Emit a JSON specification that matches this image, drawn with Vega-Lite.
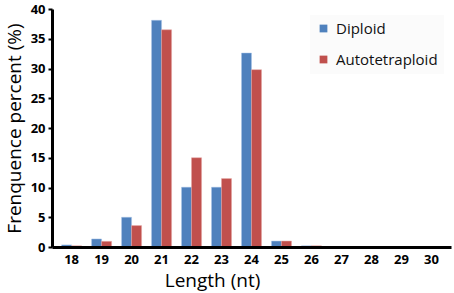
{
  "$schema": "https://vega.github.io/schema/vega-lite/v6.json",
  "width": 399,
  "height": 238,
  "autosize": {"type": "none"},
  "padding": {"left": 52, "top": 9, "right": 3, "bottom": 46},
  "background": "white",
  "config": {
    "view": {"stroke": null},
    "font": "Open Sans"
  },
  "data": {
    "values": [
      {"length": "18", "group": "Diploid", "value": 0.35},
      {"length": "18", "group": "Autotetraploid", "value": 0.2},
      {"length": "19", "group": "Diploid", "value": 1.35},
      {"length": "19", "group": "Autotetraploid", "value": 0.95},
      {"length": "20", "group": "Diploid", "value": 5.0},
      {"length": "20", "group": "Autotetraploid", "value": 3.6},
      {"length": "21", "group": "Diploid", "value": 38.1},
      {"length": "21", "group": "Autotetraploid", "value": 36.5},
      {"length": "22", "group": "Diploid", "value": 10.05},
      {"length": "22", "group": "Autotetraploid", "value": 15.0},
      {"length": "23", "group": "Diploid", "value": 10.05},
      {"length": "23", "group": "Autotetraploid", "value": 11.5},
      {"length": "24", "group": "Diploid", "value": 32.6},
      {"length": "24", "group": "Autotetraploid", "value": 29.8},
      {"length": "25", "group": "Diploid", "value": 1.0},
      {"length": "25", "group": "Autotetraploid", "value": 1.0},
      {"length": "26", "group": "Diploid", "value": 0.2},
      {"length": "26", "group": "Autotetraploid", "value": 0.2},
      {"length": "27", "group": "Diploid", "value": 0},
      {"length": "27", "group": "Autotetraploid", "value": 0},
      {"length": "28", "group": "Diploid", "value": 0},
      {"length": "28", "group": "Autotetraploid", "value": 0},
      {"length": "29", "group": "Diploid", "value": 0},
      {"length": "29", "group": "Autotetraploid", "value": 0},
      {"length": "30", "group": "Diploid", "value": 0},
      {"length": "30", "group": "Autotetraploid", "value": 0}
    ]
  },
  "mark": {"type": "bar", "strokeWidth": 0.8, "strokeOpacity": 0.6},
  "encoding": {
    "x": {
      "field": "length",
      "type": "ordinal",
      "sort": null,
      "scale": {"paddingInner": 0.333, "paddingOuter": 0.32},
      "axis": {
        "zindex": 1,
        "title": "Length (nt)",
        "titleFontSize": 19,
        "titleFontWeight": "normal",
        "titleColor": "black",
        "titleX": 160,
        "titleY": 24,
        "titleBaseline": "top",
        "titleAnchor": "middle",
        "labelAngle": 0,
        "labelFontSize": 13,
        "labelFontWeight": "bold",
        "labelColor": "black",
        "labelPadding": 6,
        "ticks": false,
        "domainColor": "black",
        "domainWidth": 3
      }
    },
    "xOffset": {
      "field": "group",
      "type": "nominal",
      "sort": ["Diploid", "Autotetraploid"],
      "scale": {"paddingInner": 0, "paddingOuter": 0}
    },
    "y": {
      "field": "value",
      "type": "quantitative",
      "scale": {"domain": [0, 40], "nice": false},
      "axis": {
        "zindex": 1,
        "title": "Frenquence percent (%)",
        "titleFontSize": 19,
        "titleFontWeight": "normal",
        "titleColor": "black",
        "titlePadding": 6,
        "values": [0, 5, 10, 15, 20, 25, 30, 35, 40],
        "grid": false,
        "labelFontSize": 13,
        "labelFontWeight": "bold",
        "labelColor": "black",
        "labelPadding": 3,
        "tickSize": 4,
        "tickWidth": 2,
        "tickColor": "black",
        "domainColor": "black",
        "domainWidth": 3
      }
    },
    "color": {
      "field": "group",
      "type": "nominal",
      "sort": ["Diploid", "Autotetraploid"],
      "scale": {"domain": ["Diploid", "Autotetraploid"], "range": ["#4F81BD", "#C0504D"]},
      "legend": {
        "title": null,
        "orient": "none",
        "legendX": 258,
        "legendY": 6,
        "symbolType": "square",
        "symbolSize": 60,
        "symbolStrokeWidth": 0,
        "labelFontSize": 15,
        "labelColor": "#111111",
        "rowPadding": 15,
        "labelOffset": 5,
        "fillColor": "#FBFBFB",
        "padding": 6
      }
    },
    "stroke": {
      "field": "group",
      "type": "nominal",
      "scale": {"domain": ["Diploid", "Autotetraploid"], "range": ["#A9C4E8", "#E3A3A1"]},
      "legend": null
    }
  }
}
